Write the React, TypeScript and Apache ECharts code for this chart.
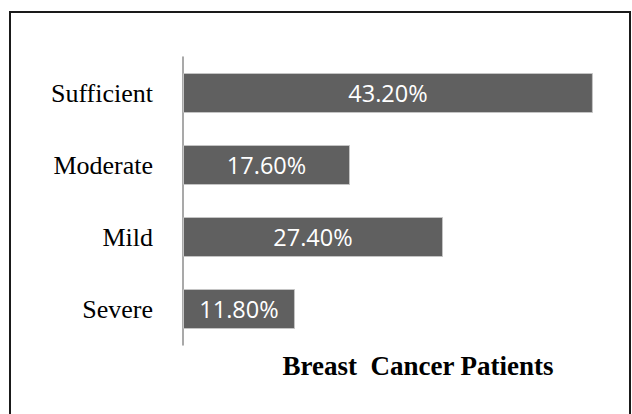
import React, { useEffect, useRef } from "react";
import * as echarts from "echarts";

const categories = ["Severe", "Mild", "Moderate", "Sufficient"];
const values = [11.8, 27.4, 17.6, 43.2];
const chartTitle = "Breast  Cancer Patients";

export default function App() {
  const ref = useRef<HTMLDivElement>(null);
  useEffect(() => {
    if (!ref.current) return;
    const chart = echarts.init(ref.current, null, { renderer: "svg" });
    chart.setOption({
      animation: false,
      backgroundColor: "#ffffff",
      grid: { left: 183, top: 57, width: 427, height: 288, containLabel: false },
      xAxis: {
        type: "value",
        min: 0,
        max: 45,
        show: false,
      },
      yAxis: {
        type: "category",
        data: categories,
        axisLine: { show: true, lineStyle: { color: "#8c8c8c", width: 1.5 } },
        axisTick: { show: false },
        axisLabel: {
          margin: 30,
          color: "#000000",
          fontFamily: "Liberation Serif",
          fontSize: 26,
        },
        splitLine: { show: false },
      },
      series: [
        {
          type: "bar",
          data: values,
          barWidth: 40,
          itemStyle: { color: "#606060", borderColor: "#c4c4c4", borderWidth: 1 },
          label: {
            show: true,
            position: "inside",
            color: "#ffffff",
            fontFamily: "Open Sans",
            fontSize: 23.5,
            formatter: (p: any) => p.value.toFixed(2) + "%",
          },
        },
      ],
      graphic: [
        {
          type: "rect",
          shape: { x: 10, y: 12, width: 620, height: 420 },
          style: { fill: "none", stroke: "#1a1a1a", lineWidth: 2 },
          silent: true,
        },
        {
          type: "text",
          x: 418,
          y: 366,
          style: {
            text: chartTitle,
            fontFamily: "Liberation Serif",
            fontWeight: "bold",
            fontSize: 27,
            fill: "#000000",
            textAlign: "center",
            textVerticalAlign: "middle",
          },
        },
      ],
    });
    return () => chart.dispose();
  }, []);
  return (
    <div
      ref={ref}
      style={{ position: "absolute", left: 0, top: 0, width: 632, height: 414 }}
    />
  );
}
